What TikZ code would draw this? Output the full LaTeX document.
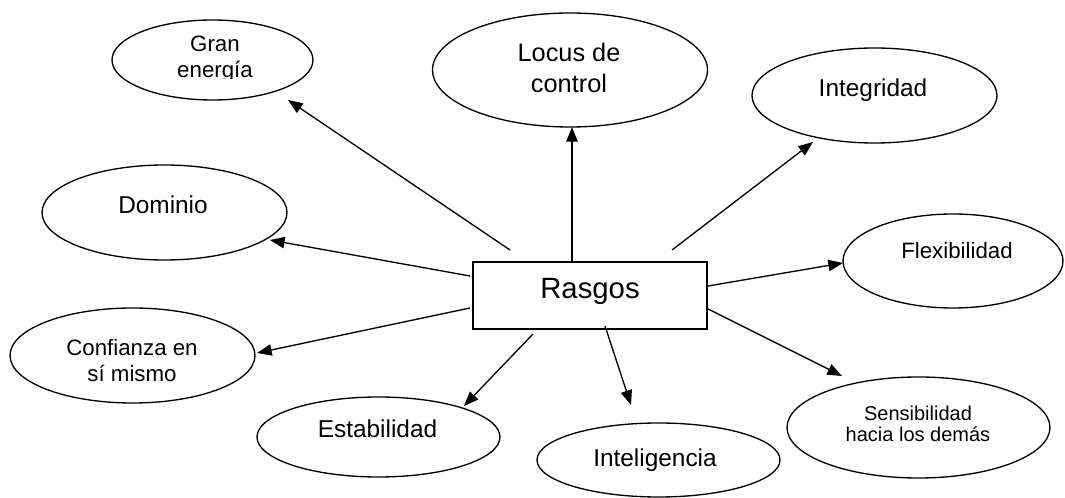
\documentclass[tikz,border=0pt]{standalone}
\usepackage{fontspec}
\setmainfont{Liberation Sans}
\usetikzlibrary{shapes.geometric,arrows.meta}
\begin{document}
\begin{tikzpicture}[x=0.75pt,y=-0.75pt,
  oval/.style={draw, ellipse, line width=1pt, inner sep=0pt},
  hub/.style={draw, rectangle, line width=1pt, inner sep=0pt,
    minimum width=175.5pt, minimum height=50.25pt},
  lbl/.style={inner sep=0pt, align=center},
  link/.style={line width=1pt, -{Triangle[length=11pt,width=8.5pt]}},
  fs/.style={font=\fontsize{15}{15.75}\selectfont},
  fm/.style={font=\fontsize{16.7}{19.5}\selectfont},
  fl/.style={font=\fontsize{18.3}{21}\selectfont},
  fx/.style={font=\fontsize{19}{23.25}\selectfont},
  fh/.style={font=\fontsize{22}{25}\selectfont}
]
\useasboundingbox[fill=white] (0,0) rectangle (1065,498);

% central box
\node[hub] (rasgos) at (590,295.5) {};
\node[lbl, fh, anchor=base] (rasgos-t) at (590,299) {Rasgos};

% trait ellipses
\node[oval, minimum width=150.75pt, minimum height=60pt]   (gran)  at (212.5,60) {};
\node[oval, minimum width=206.25pt, minimum height=85.5pt] (locus) at (570,70) {};
\node[oval, minimum width=183.75pt, minimum height=71.25pt] (integ) at (874.5,95.5) {};
\node[oval, minimum width=183.75pt, minimum height=71.25pt] (dom)   at (164.5,212.5) {};
\node[oval, minimum width=165pt,    minimum height=70.5pt]  (flex)  at (953,261) {};
\node[oval, minimum width=183.75pt, minimum height=71.25pt] (conf)  at (132.5,355.5) {};
\node[oval, minimum width=182.25pt, minimum height=60pt]    (estab) at (378.5,437) {};
\node[oval, minimum width=182.25pt, minimum height=55.5pt]  (intel) at (658.5,460) {};
\node[oval, minimum width=197.25pt, minimum height=75.75pt] (sens)  at (918.5,427.5) {};

% labels (the second line of the first one is cut off by its frame)
\begin{scope}
  \clip (100,0) rectangle (330,78.5);
  \node[lbl, fm] (gran-t) at (215,59) {Gran\\energía};
\end{scope}
\node[lbl, fx] (locus-t) at (569,68) {Locus de\\control};
\node[lbl, fl, anchor=base] (integ-t) at (873,97) {Integridad};
\node[lbl, fl, anchor=base] (dom-t) at (163,214) {Dominio};
\node[lbl, fm, anchor=base] (flex-t) at (957,259) {Flexibilidad};
\node[lbl, fm] (conf-t) at (132,360.5) {Confianza en\\sí mismo};
\node[lbl, fl, anchor=base] (estab-t) at (377.5,438) {Estabilidad};
\node[lbl, fl, anchor=base] (intel-t) at (655,467) {Inteligencia};
\node[lbl, fs] (sens-t) at (918,424) {Sensibilidad\\hacia los demás};

% connector ends
\coordinate (gran-s)  at (510,250); \coordinate (gran-e)  at (288,100);
\coordinate (locus-s) at (572,262); \coordinate (locus-e) at (572,127);
\coordinate (integ-s) at (672,250); \coordinate (integ-e) at (813,142);
\coordinate (flex-s)  at (708,286); \coordinate (flex-e)  at (843,263);
\coordinate (sens-s)  at (708,309); \coordinate (sens-e)  at (842,376);
\coordinate (intel-s) at (605,326); \coordinate (intel-e) at (631,405);
\coordinate (estab-s) at (533,334); \coordinate (estab-e) at (464,406);
\coordinate (conf-s)  at (470,308); \coordinate (conf-e)  at (257,353);
\coordinate (dom-s)   at (470,276); \coordinate (dom-e)   at (270,240);

% arrows
\draw[link] (gran-s)  -- (gran-e);
\draw[link] (locus-s) -- (locus-e);
\draw[link] (integ-s) -- (integ-e);
\draw[link] (flex-s)  -- (flex-e);
\draw[link] (sens-s)  -- (sens-e);
\draw[link] (intel-s) -- (intel-e);
\draw[link] (estab-s) -- (estab-e);
\draw[link] (conf-s)  -- (conf-e);
\draw[link] (dom-s)   -- (dom-e);
\end{tikzpicture}
\end{document}
